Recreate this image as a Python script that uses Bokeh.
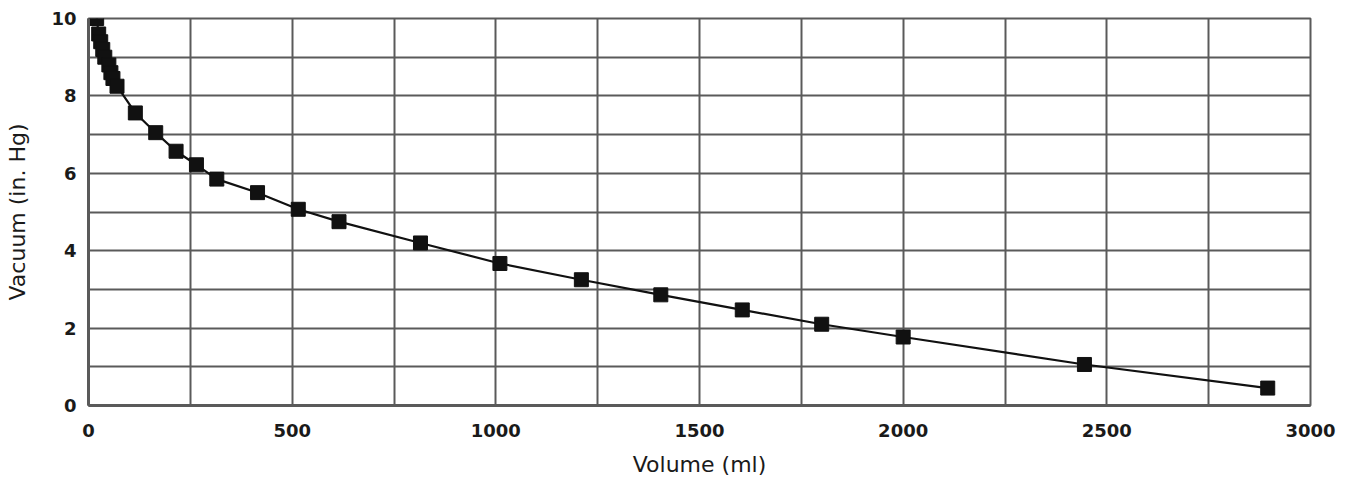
from bokeh.plotting import figure
from bokeh.models import Range1d, FixedTicker, SingleIntervalTicker
from bokeh.embed import file_html
from bokeh.resources import INLINE

# Data
volume_ml = [20, 25, 30, 35, 40, 50, 55, 60, 70, 115, 165, 215, 265, 315, 415,
             515, 615, 815, 1010, 1210, 1405, 1605, 1800, 2000, 2445, 2895]
vacuum_inhg = [10.0, 9.6, 9.4, 9.2, 9.0, 8.8, 8.6, 8.45, 8.25, 7.56, 7.05, 6.57,
               6.22, 5.85, 5.5, 5.07, 4.75, 4.2, 3.67, 3.25, 2.86, 2.47, 2.1,
               1.77, 1.06, 0.45]
x_ticks = [0, 500, 1000, 1500, 2000, 2500, 3000]
y_ticks = [0, 2, 4, 6, 8, 10]

GRID = "#5a5a5a"
FONT = "DejaVu Sans"

p = figure(width=1337, height=484, output_backend="svg", toolbar_location=None,
           x_range=Range1d(0, 3000), y_range=Range1d(0, 10),
           min_border_left=88, min_border_right=27, min_border_top=18,
           min_border_bottom=79)

p.background_fill_color = "white"
p.border_fill_color = "white"
p.outline_line_color = GRID
p.outline_line_width = 2

# grid
p.xgrid.ticker = SingleIntervalTicker(interval=250)
p.ygrid.ticker = SingleIntervalTicker(interval=1)
p.xgrid.grid_line_color = GRID
p.xgrid.grid_line_width = 2
p.ygrid.grid_line_color = GRID
p.ygrid.grid_line_width = 2

# axes
for ax in (p.xaxis[0], p.yaxis[0]):
    ax.axis_line_color = GRID
    ax.axis_line_width = 3
    ax.major_tick_out = 0
    ax.major_tick_in = 0
    ax.minor_tick_out = 0
    ax.minor_tick_in = 0
    ax.major_label_text_font = FONT
    ax.major_label_text_font_style = "bold"
    ax.major_label_text_font_size = "18px"
    ax.major_label_text_color = "#1a1a1a"
    ax.axis_label_text_font = FONT
    ax.axis_label_text_font_style = "normal"
    ax.axis_label_text_font_size = "22px"
    ax.axis_label_text_color = "#1a1a1a"

p.xaxis.ticker = FixedTicker(ticks=x_ticks)
p.yaxis.ticker = FixedTicker(ticks=y_ticks)
p.xaxis.axis_label = "Volume (ml)"
p.yaxis.axis_label = "Vacuum (in. Hg)"
p.xaxis.major_label_standoff = 18
p.xaxis.axis_label_standoff = 12
p.yaxis.major_label_standoff = 12
p.yaxis.axis_label_standoff = 18

p.line(volume_ml, vacuum_inhg, line_color="#111111", line_width=2.2)
p.scatter(volume_ml, vacuum_inhg, marker="square", size=14,
          fill_color="#111111", line_color="#111111")

open("out.html", "w").write(file_html(p, INLINE))
